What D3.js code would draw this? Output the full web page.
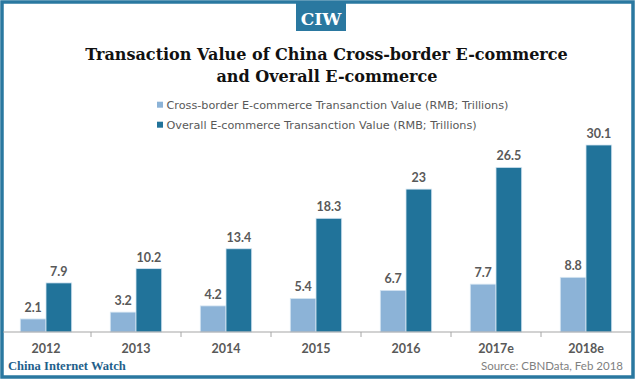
<!DOCTYPE html>
<html><head><meta charset="utf-8">
<script src="https://cdn.jsdelivr.net/npm/d3@7"></script>
<style>html,body{margin:0;padding:0;background:#fff;}svg{display:block;}</style>
</head><body>
<svg id="c" width="636" height="379"></svg>
<script>
const categories = ["2012","2013","2014","2015","2016","2017e","2018e"];
const crossBorder = [2.1,3.2,4.2,5.4,6.7,7.7,8.8];
const overall = [7.9,10.2,13.4,18.3,23,26.5,30.1];
const seriesNames = ["Cross-border E-commerce Transanction Value (RMB; Trillions)","Overall E-commerce Transanction Value (RMB; Trillions)"];
const colors = ["#8cb3d7","#21739a"];
const titleLines = ["Transaction Value of China Cross-border E-commerce","and Overall E-commerce"];

const svg = d3.select("#c");
const blue = "#2a78a0";

function fit(sel, w){ const n=sel.node(); const l=n.getComputedTextLength(); const fs=parseFloat(sel.attr("font-size")); sel.attr("font-size", fs*w/l); }

// frame
svg.append("rect").attr("x",2).attr("y",2).attr("width",631).attr("height",375)
  .attr("fill","#fff").attr("stroke",blue).attr("stroke-width",3.5);

// CIW badge
svg.append("rect").attr("x",296).attr("y",2).attr("width",50).attr("height",29).attr("fill",blue);
svg.append("text").attr("x",321).attr("y",24.5).attr("text-anchor","middle")
  .attr("font-family","'DejaVu Serif','Liberation Serif',serif").attr("font-weight","bold")
  .attr("font-size",17).attr("fill","#fff").text("CIW");

// title
const tf = "'DejaVu Serif','Liberation Serif',serif";
const t1 = svg.append("text").attr("x",326.5).attr("y",60).attr("text-anchor","middle")
  .attr("font-family",tf).attr("font-weight","bold").attr("font-size",16).attr("fill","#111").text(titleLines[0]);
fit(t1,483);
svg.append("text").attr("x",327).attr("y",82).attr("text-anchor","middle")
  .attr("font-family",tf).attr("font-weight","bold").attr("font-size",t1.attr("font-size")).attr("fill","#111").text(titleLines[1]);

// legend
const lf = "'Lato','Open Sans',sans-serif";
const legF = "'DejaVu Sans','Noto Sans',sans-serif";
const lgY = [104.7,124.7];
const legTexts = [];
seriesNames.forEach((s,i)=>{
  svg.append("rect").attr("x",157).attr("y",lgY[i]-3).attr("width",6).attr("height",6).attr("fill",colors[i]);
  const t = svg.append("text").attr("x",166.5).attr("y",lgY[i]+4.2).attr("font-family",legF)
    .attr("font-size",12).attr("fill","#595959").text(s);
  legTexts.push(t);
});
fit(legTexts[0],342);
legTexts[1].attr("font-size", legTexts[0].attr("font-size"));

// scales
const x0 = d3.scaleBand().domain(categories).range([1,631]).paddingInner(0).paddingOuter(0);
const inner = 51.4/90;
const x1 = d3.scaleBand().domain([0,1]).range([(x0.bandwidth()*(1-inner))/2,(x0.bandwidth()*(1+inner))/2]);
const y = d3.scaleLinear().domain([0,30.1]).range([332,145]);

const data = categories.map((c,i)=>({c, v:[crossBorder[i],overall[i]]}));
const g = svg.append("g");
const grp = g.selectAll("g.grp").data(data).join("g").attr("transform",d=>`translate(${x0(d.c)},0)`);
grp.selectAll("rect").data(d=>d.v.map((v,k)=>({v,k}))).join("rect")
  .attr("x",d=>x1(d.k)).attr("width",x1.bandwidth()).attr("y",d=>y(d.v)).attr("height",d=>y(0)-y(d.v))
  .attr("fill",d=>colors[d.k]).attr("stroke","#d6e6f2").attr("stroke-width",0.8);
grp.selectAll("text").data(d=>d.v.map((v,k)=>({v,k}))).join("text")
  .attr("x",d=>x1(d.k)+x1.bandwidth()/2).attr("y",d=>y(d.v)-7).attr("text-anchor","middle")
  .attr("font-family",lf).attr("font-weight","bold").attr("font-size",12.5).attr("fill","#595959")
  .text(d=>d.v);

// axis
const axisG = svg.append("g").attr("transform","translate(0,332)");
axisG.append("line").attr("x1",3).attr("x2",631).attr("y1",0).attr("y2",0).attr("stroke","#a6a6a6").attr("stroke-width",1.2);
const bounds = categories.slice(1).map(c=>x0(c));
axisG.selectAll("line.tk").data(bounds).join("line").attr("class","tk")
  .attr("x1",d=>d).attr("x2",d=>d).attr("y1",0).attr("y2",5).attr("stroke","#a6a6a6");
const ax = d3.axisBottom(x0).tickSize(0).tickPadding(0);
const axT = svg.append("g").attr("transform","translate(0,332)").call(ax);
axT.select(".domain").remove();
axT.selectAll("text").attr("y",20.5).attr("dy",null).attr("font-family",lf).attr("font-weight","bold")
  .attr("font-size",12.5).attr("fill","#595959");

// footer
const ft = svg.append("text").attr("x",8).attr("y",370).attr("font-family","'Liberation Serif','DejaVu Serif',serif")
  .attr("font-weight","bold").attr("font-size",12).attr("fill","#1f5f8b").text("China Internet Watch");
fit(ft,118);
svg.append("text").attr("x",623).attr("y",370).attr("text-anchor","end").attr("font-family",lf)
  .attr("font-size",11.5).attr("fill","#7f7f7f").text("Source: CBNData, Feb 2018");
</script>
</body></html>
